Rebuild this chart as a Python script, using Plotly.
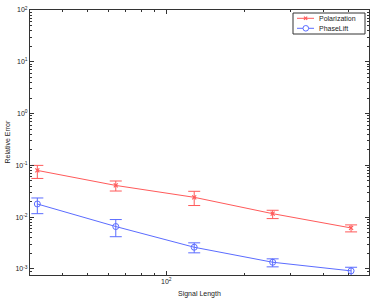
import plotly.graph_objects as go

signal_length = [32, 64, 128, 256, 512]

pol_err = [0.080, 0.041, 0.0242, 0.0117, 0.0062]
pol_up = [0.020, 0.009, 0.0074, 0.0019, 0.0009]
pol_down = [0.024, 0.009, 0.0074, 0.0023, 0.0010]

pl_err = [0.0180, 0.0066, 0.00263, 0.00135, 0.00092]
pl_up = [0.0055, 0.0024, 0.00057, 0.00022, 0.00016]
pl_down = [0.0063, 0.0024, 0.00058, 0.00025, 0.00017]

series_names = ["Polarization", "PhaseLift"]

y_ticks = [1e-3, 1e-2, 1e-1, 1e0, 1e1, 1e2]
y_ticktext = ["10<sup>-3</sup>", "10<sup>-2</sup>", "10<sup>-1</sup>",
              "10<sup>0</sup>", "10<sup>1</sup>", "10<sup>2</sup>"]
x_ticks = [100]
x_ticktext = ["10<sup>2</sup>"]

red = "#ff5a5a"
blue = "#5b6cff"

fig = go.Figure()
fig.add_trace(go.Scatter(
    x=signal_length, y=pol_err, name=series_names[0], mode="lines+markers",
    line=dict(color=red, width=1),
    marker=dict(symbol="x-thin", size=4, line=dict(color=red, width=1.2), color=red),
    error_y=dict(type="data", symmetric=False, array=pol_up, arrayminus=pol_down,
                 color=red, thickness=1, width=6),
))
fig.add_trace(go.Scatter(
    x=signal_length, y=pl_err, name=series_names[1], mode="lines+markers",
    line=dict(color=blue, width=1),
    marker=dict(symbol="circle-open", size=6, line=dict(color=blue, width=1), color=blue),
    error_y=dict(type="data", symmetric=False, array=pl_up, arrayminus=pl_down,
                 color=blue, thickness=1, width=6),
))

x_minor = [40, 50, 60, 70, 80, 90, 200, 300, 400, 500]
y_minor = []
for d in [1e-4, 1e-3, 1e-2, 1e-1, 1e0, 1e1]:
    for k in range(2, 10):
        y_minor.append(k * d)

axis_common = dict(
    showgrid=False, zeroline=False, showline=True, linecolor="#333333", linewidth=1,
    mirror="allticks", ticks="inside", ticklen=4, tickcolor="#333333", tickwidth=1,
    tickfont=dict(size=7, color="#222222"), automargin=False,
)

# plot-area geometry (pixels) used to place the hand-built legend box
W, H = 374, 300
L, R, T, B = 30, 5, 10, 25
pw, ph = W - L - R, H - T - B


def px(x):
    return (x - L) / pw


def py(y):
    return (H - B - y) / ph


shapes = []
annotations = []
# legend box
shapes.append(dict(type="rect", xref="paper", yref="paper",
                   x0=px(293), x1=px(365), y0=py(34), y1=py(13),
                   line=dict(color="#333333", width=1), fillcolor="white", layer="above"))
rows = [18.3, 28.3]
cols = [red, blue]
for name, c, yy, sym in zip(series_names, cols, rows, ["x", "o"]):
    shapes.append(dict(type="line", xref="paper", yref="paper",
                       x0=px(297), x1=px(314), y0=py(yy), y1=py(yy),
                       line=dict(color=c, width=1), layer="above"))
    if sym == "x":
        for dy in (-1.6, 1.6):
            shapes.append(dict(type="line", xref="paper", yref="paper",
                               x0=px(304), x1=px(307.2), y0=py(yy - dy), y1=py(yy + dy),
                               line=dict(color=c, width=1.2), layer="above"))
    else:
        shapes.append(dict(type="circle", xref="paper", yref="paper",
                           x0=px(303), x1=px(308.6), y0=py(yy + 2.8), y1=py(yy - 2.8),
                           line=dict(color=c, width=1), fillcolor="white", layer="above"))
    annotations.append(dict(text=name, xref="paper", yref="paper", x=px(317), y=py(yy),
                            xanchor="left", yanchor="middle", showarrow=False,
                            font=dict(size=7, color="#222222")))

annotations.append(dict(text="Signal Length", xref="paper", yref="paper",
                        x=0.5, y=py(294), xanchor="center", yanchor="middle",
                        showarrow=False, font=dict(size=7, color="#222222")))
annotations.append(dict(text="Relative Error", xref="paper", yref="paper",
                        x=px(7), y=0.5, xanchor="center", yanchor="middle", textangle=-90,
                        showarrow=False, font=dict(size=7, color="#222222")))

fig.update_layout(
    width=W, height=H,
    margin=dict(l=L, r=R, t=T, b=B),
    paper_bgcolor="white", plot_bgcolor="white",
    font=dict(family="Liberation Sans, Arial, sans-serif", size=7, color="#222222"),
    xaxis=dict(type="log", range=[1.477, 2.778], tickvals=x_ticks, ticktext=x_ticktext,
               minor=dict(tickvals=x_minor, ticks="inside", ticklen=2, tickcolor="#333333"),
               **axis_common),
    yaxis=dict(type="log", range=[-3.116, 2.0], tickvals=y_ticks, ticktext=y_ticktext,
               minor=dict(tickvals=y_minor, ticks="inside", ticklen=2, tickcolor="#333333"),
               **axis_common),
    shapes=shapes,
    annotations=annotations,
    showlegend=False,
    hovermode=False,
)

fig.write_html("out.html", config={"displayModeBar": False, "staticPlot": True},
               post_script="document.body.style.margin='0';")
